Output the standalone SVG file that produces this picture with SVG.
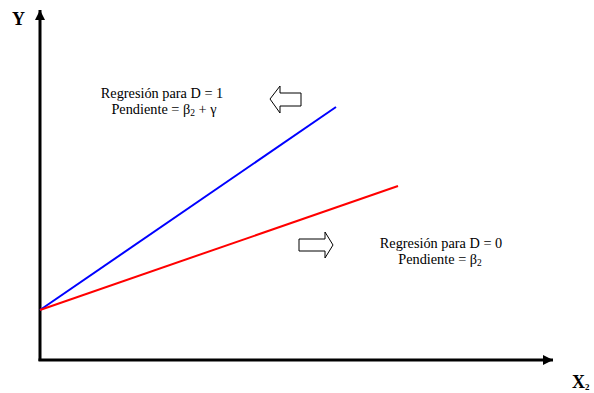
<svg xmlns="http://www.w3.org/2000/svg" width="594" height="393" viewBox="0 0 594 393">
<style>
.t{font-family:"Liberation Serif","Times New Roman",serif;font-size:14.3px;fill:#000;text-anchor:middle}
.ax{font-family:"Liberation Serif","Times New Roman",serif;font-size:18px;font-weight:bold;fill:#000}
.hollow{fill:#fff;stroke:#000;stroke-width:1}
</style>
<defs>
<marker id="ah" markerWidth="10" markerHeight="10" refX="10" refY="5" orient="auto" markerUnits="userSpaceOnUse" viewBox="0 0 10 10">
<path d="M0,0 L10,5 L0,10 z" fill="#000"/>
</marker>
</defs>
<g id="connectors">
<line x1="40" y1="361" x2="40" y2="10" stroke="#000" stroke-width="3" marker-end="url(#ah)"/>
<line x1="38.5" y1="360" x2="553" y2="360" stroke="#000" stroke-width="3" marker-end="url(#ah)"/>
<line x1="40" y1="310" x2="336" y2="107" stroke="#0000ff" stroke-width="2"/>
<line x1="40" y1="310" x2="398" y2="186" stroke="#ff0000" stroke-width="2"/>
</g>
<g id="axis-y"><text class="ax" x="12" y="25">Y</text></g>
<g id="axis-x"><text class="ax" x="572" y="388">X<tspan font-size="9" dy="2">2</tspan></text></g>
<g id="arrow-left"><path class="hollow" d="M270,99 L280,86 L280,93 L301,93 L301,106 L280,106 L280,113 Z"/></g>
<g id="arrow-right"><path class="hollow" d="M333,245 L325,232 L325,239 L299,239 L299,251 L325,251 L325,258 Z"/></g>
<g id="label-d1">
<text class="t" x="162" y="98">Regresión para D = 1</text>
<text class="t" x="164" y="114">Pendiente = β<tspan font-size="9.5" dy="2">2</tspan><tspan dy="-2"> + γ</tspan></text>
</g>
<g id="label-d0">
<text class="t" x="441" y="248">Regresión para D = 0</text>
<text class="t" x="440" y="264">Pendiente = β<tspan font-size="9.5" dy="2">2</tspan></text>
</g>
</svg>
